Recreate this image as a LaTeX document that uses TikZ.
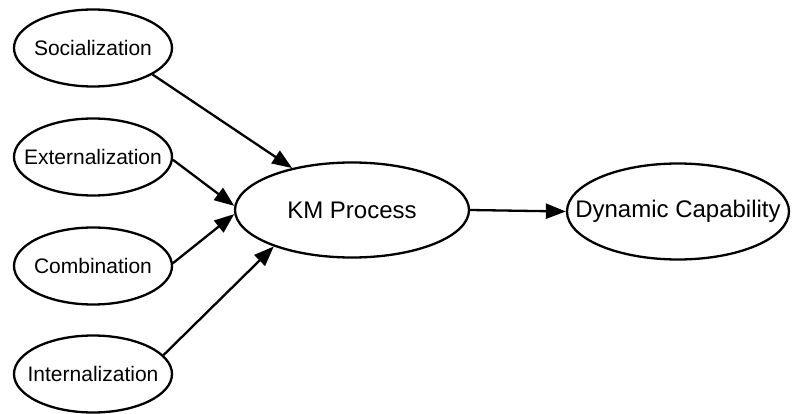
\documentclass[tikz,border=0pt]{standalone}
\usepackage{fontspec}
\setmainfont{Liberation Sans}
\usetikzlibrary{shapes.geometric,arrows.meta}
\begin{document}
\begin{tikzpicture}[x=1pt,y=-1pt,
  small/.style={draw,ellipse,line width=2.3pt,inner sep=0pt,minimum width=158pt,minimum height=77pt,font=\fontsize{21}{24}\selectfont},
  big/.style={draw,ellipse,line width=2.3pt,inner sep=0pt,font=\fontsize{24}{28}\selectfont},
  conn/.style={line width=2.3pt,-{Triangle[length=20pt,width=15pt]}}]
\useasboundingbox (0,0) rectangle (792,414);
\node[small] (soc) at (93,48) {\makebox[0pt][c]{Socialization}};
\node[small] (ext) at (93,157) {\makebox[0pt][c]{Externalization}};
\node[small] (com) at (93,266) {\makebox[0pt][c]{Combination}};
\node[small] (int) at (93,374) {\makebox[0pt][c]{Internalization}};
\node[big,minimum width=234pt,minimum height=95pt] (km) at (352,210) {\makebox[0pt][c]{KM Process}};
\node[big,minimum width=222pt,minimum height=96pt] (dc) at (678,211.5) {\makebox[0pt][c]{Dynamic Capability}};
\draw[conn] (soc.-24) -- (km.145);
\draw[conn] (ext.-2) -- (km.178);
\draw[conn] (com.2) -- (km.182);
\draw[conn] (int.15) -- (km.-155);
\draw[conn] (km.east) -- (dc.west);
\end{tikzpicture}
\end{document}
